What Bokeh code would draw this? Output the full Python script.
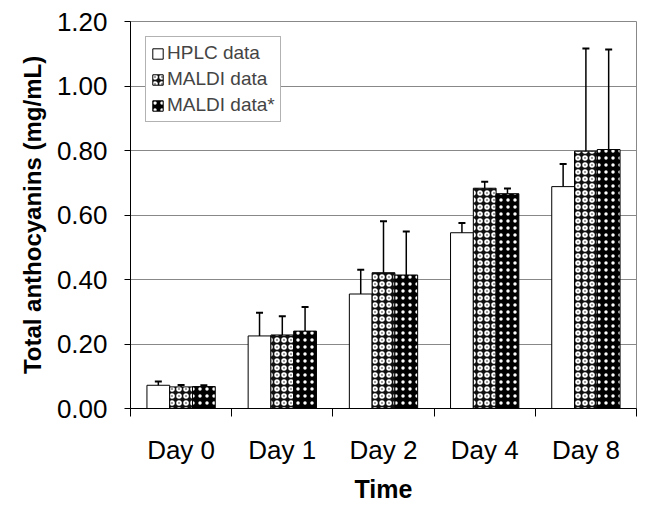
import numpy as np
from bokeh.plotting import figure
from bokeh.models import (ColumnDataSource, FixedTicker, Whisker, TeeHead, Legend, LegendItem, Range1d)
from bokeh.embed import file_html
from bokeh.resources import INLINE

days = ["Day 0", "Day 1", "Day 2", "Day 4", "Day 8"]
series = ["HPLC data", "MALDI data", "MALDI data*"]
hplc = [0.072, 0.225, 0.355, 0.545, 0.688]
hplc_err = [0.012, 0.072, 0.075, 0.030, 0.070]
maldi = [0.067, 0.228, 0.421, 0.683, 0.798]
maldi_err = [0.006, 0.058, 0.160, 0.020, 0.318]
maldi2 = [0.068, 0.240, 0.414, 0.666, 0.803]
maldi2_err = [0.004, 0.075, 0.135, 0.016, 0.310]
y_ticks = [0.0, 0.2, 0.4, 0.6, 0.8, 1.0, 1.2]

FONT = "Liberation Sans"
centers = np.arange(len(days)) + 0.5
offsets = [-0.225, 0.0, 0.225]
bw = 0.225

p = figure(width=640, height=505, output_backend="svg", toolbar_location=None,
           x_range=Range1d(0, len(days)), y_range=Range1d(0, 1.2),
           min_border_left=130, min_border_right=4, min_border_top=21, min_border_bottom=96)
p.background_fill_color = "white"
p.border_fill_color = "white"
p.outline_line_color = "#888888"

styles = [
    dict(fill_color="white", line_color="black"),
    dict(fill_color="#111111", line_color="black", hatch_pattern="ring", hatch_color="white",
         hatch_weight=2, hatch_scale=7),
    dict(fill_color="black", line_color="black", hatch_pattern="dot", hatch_color="white",
         hatch_weight=1, hatch_scale=7),
]
data = [(hplc, hplc_err), (maldi, maldi_err), (maldi2, maldi2_err)]
items = []
for (vals, errs), off, st, name in zip(data, offsets, styles, series):
    vals = np.array(vals)
    errs = np.array(errs)
    src = ColumnDataSource(dict(x=centers + off, top=vals, upper=vals + errs))
    r = p.vbar(x="x", top="top", width=bw, source=src, line_width=1, **st)
    w = Whisker(base="x", lower="top", upper="upper", source=src, dimension="height",
                line_color="black", line_width=1.5, lower_head=None,
                upper_head=TeeHead(size=7, line_color="black", line_width=2), level="glyph")
    p.add_layout(w)
    items.append(LegendItem(label=name, renderers=[r]))

legend = Legend(items=items, location="top_left", margin=15,
                label_text_font=FONT, label_text_font_size="19px",
                glyph_width=13, glyph_height=13, label_height=21, label_standoff=3,
                spacing=4, padding=5, border_line_color="#666666",
                background_fill_color="white", background_fill_alpha=1)
p.add_layout(legend)

# x axis
p.xaxis.ticker = FixedTicker(ticks=list(centers), minor_ticks=list(range(len(days) + 1)))
p.xaxis.major_label_overrides = {float(c): d for c, d in zip(centers, days)}
p.xaxis.major_tick_out = 0
p.xaxis.major_tick_in = 0
p.xaxis.minor_tick_out = 8
p.xaxis.minor_tick_in = 0
p.xaxis.minor_tick_line_color = "black"
p.xaxis.axis_label = "Time"
p.xaxis.major_label_standoff = 18
p.xaxis.axis_label_standoff = 7

# y axis
p.yaxis.ticker = FixedTicker(ticks=y_ticks)
p.yaxis.major_label_overrides = {t: f"{t:.2f}" for t in y_ticks}
p.yaxis.minor_tick_line_color = None
p.yaxis.major_tick_out = 6
p.yaxis.major_tick_in = 0
p.yaxis.axis_label = "Total anthocyanins (mg/mL)"
p.yaxis.major_label_standoff = 17
p.yaxis.axis_label_standoff = 8

for ax in (p.xaxis[0], p.yaxis[0]):
    ax.axis_line_color = "black"
    ax.major_tick_line_color = "black"
    ax.major_label_text_font = FONT
    ax.major_label_text_font_size = "26px"
    ax.major_label_text_color = "black"
    ax.axis_label_text_font = FONT
    ax.axis_label_text_font_style = "bold"
    ax.axis_label_text_color = "black"
p.xaxis.axis_label_text_font_size = "25px"
p.yaxis.axis_label_text_font_size = "24px"

p.xgrid.grid_line_color = None
p.ygrid.grid_line_color = "#888888"
p.ygrid.grid_line_width = 1

open("out.html", "w").write(file_html(p, INLINE))
